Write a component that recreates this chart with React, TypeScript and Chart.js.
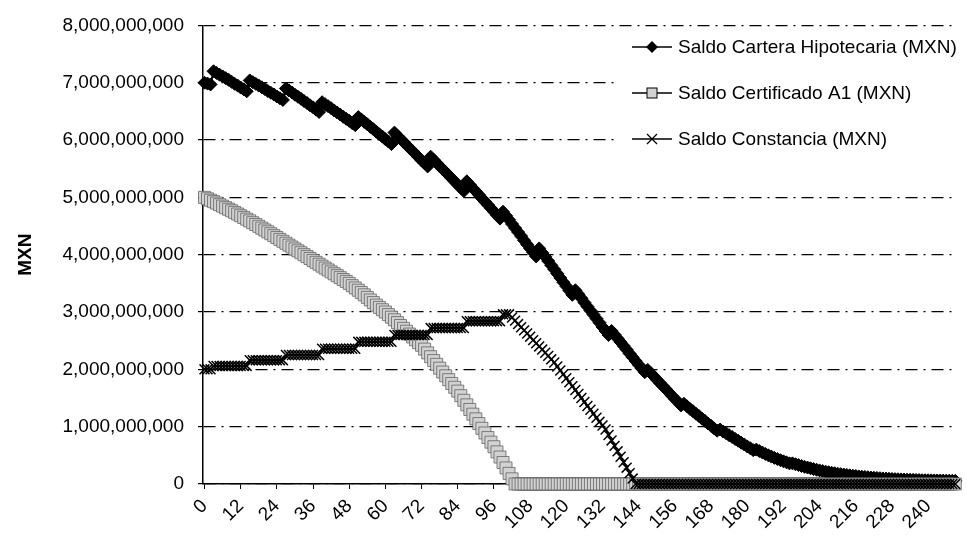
import React, { useEffect, useRef } from 'react';
import { Chart, registerables } from 'chart.js';

Chart.register(...registerables);

// Month index categories 0..249
const MONTHS: string[] = Array.from({ length: 250 }, (_, i) => String(i));

const X_TICK_LABELS = ['0', '12', '24', '36', '48', '60', '72', '84', '96', '108', '120', '132', '144', '156', '168', '180', '192', '204', '216', '228', '240'];

const Y_TICK_LABELS = ['0', '1,000,000,000', '2,000,000,000', '3,000,000,000', '4,000,000,000', '5,000,000,000', '6,000,000,000', '7,000,000,000', '8,000,000,000'];

const SERIES_NAMES = ['Saldo Cartera Hipotecaria (MXN)', 'Saldo Certificado A1 (MXN)', 'Saldo Constancia (MXN)'];

const Y_TITLE = 'MXN';

// Values in MXN millions, one per month
const CARTERA = [
  7000, 6985, 6970,
  7200, 7170, 7140, 7110, 7080, 7050, 7015, 6980, 6950, 6915, 6885, 6850,
  7040, 7010, 6980, 6950, 6920, 6890, 6855, 6825, 6795, 6760, 6730, 6700,
  6900, 6865, 6830, 6790, 6755, 6720, 6680, 6645, 6605, 6570, 6530, 6490,
  6660, 6625, 6590, 6555, 6515, 6480, 6445, 6405, 6370, 6335, 6295, 6260,
  6400, 6360, 6315, 6275, 6230, 6190, 6145, 6100, 6060, 6015, 5975, 5930,
  6130, 6075, 6020, 5970, 5915, 5860, 5810, 5755, 5700, 5645, 5595, 5540,
  5710, 5655, 5600, 5545, 5490, 5440, 5385, 5330, 5275, 5220, 5165, 5110,
  5280, 5220, 5160, 5105, 5045, 4985, 4925, 4870, 4810, 4750, 4690, 4630,
  4750, 4680, 4610, 4535, 4465, 4395, 4325, 4250, 4180, 4110, 4040, 3970,
  4110, 4035, 3965, 3890, 3815, 3745, 3670, 3595, 3520, 3450, 3375, 3300,
  3380, 3310, 3240, 3165, 3095, 3025, 2955, 2885, 2815, 2740, 2670, 2600,
  2670, 2605, 2540, 2475, 2410, 2345, 2275, 2210, 2145, 2080, 2015, 1950,
  1990, 1935, 1880, 1820, 1765, 1710, 1655, 1600, 1540, 1485, 1430, 1370,
  1400, 1355, 1310, 1270, 1225, 1185, 1140, 1100, 1055, 1015, 970, 930,
  950, 915, 885, 850, 820, 785, 755, 720, 690, 655, 625, 590,
  600, 575, 550, 525, 500, 478, 456, 436, 416, 396, 378, 360,
  360, 345, 330, 315, 300, 287, 274, 261, 249, 237, 226, 215,
  205, 196, 188, 180, 172, 165, 158, 151, 145, 139, 133, 128,
  123, 118, 113, 109, 105, 101, 97, 94, 91, 88, 85, 82,
  80, 78, 76, 74, 72, 70, 68, 66, 65, 64, 63, 62, 61, 60, 59, 58, 57, 56, 55,
];

const CERTIFICADO = [
  5000, 4975, 4950, 4925, 4900, 4873, 4847, 4820, 4793, 4766, 4738, 4709, 4680,
  4650, 4620, 4590, 4558, 4527, 4495, 4463, 4431, 4399, 4366, 4333, 4300,
  4267, 4234, 4200, 4167, 4134, 4100, 4067, 4034, 4000, 3967, 3934, 3900,
  3867, 3834, 3800, 3767, 3734, 3700, 3667, 3634, 3600, 3567, 3534, 3500,
  3460, 3420, 3380, 3340, 3300, 3255, 3210, 3165, 3120, 3080, 3040, 3000,
  2955, 2910, 2865, 2815, 2765, 2715, 2665, 2615, 2565, 2515, 2465, 2420,
  2353, 2287, 2220, 2153, 2087, 2020, 1953, 1887, 1820, 1753, 1687, 1620,
  1540, 1460, 1380, 1300, 1218, 1136, 1054, 972, 890, 810, 730, 650,
  560, 470, 375, 280, 185, 90, 0,
  0, 0, 0, 0, 0, 0, 0, 0, 0, 0, 0, 0, 0, 0, 0, 0, 0, 0, 0, 0,
  0, 0, 0, 0, 0, 0, 0, 0, 0, 0, 0, 0, 0, 0, 0, 0, 0, 0, 0, 0,
  0, 0, 0, 0, 0, 0, 0, 0, 0, 0, 0, 0, 0, 0, 0, 0, 0, 0, 0, 0,
  0, 0, 0, 0, 0, 0, 0, 0, 0, 0, 0, 0, 0, 0, 0, 0, 0, 0, 0, 0,
  0, 0, 0, 0, 0, 0, 0, 0, 0, 0, 0, 0, 0, 0, 0, 0, 0, 0, 0, 0,
  0, 0, 0, 0, 0, 0, 0, 0, 0, 0, 0, 0, 0, 0, 0, 0, 0, 0, 0, 0,
  0, 0, 0, 0, 0, 0, 0, 0, 0, 0, 0, 0, 0, 0, 0, 0, 0, 0, 0, 0,
  0, 0, 0, 0, 0, 0,
];

const CONSTANCIA = [
  2000, 2000, 2000,
  2060, 2060, 2060, 2060, 2060, 2060, 2060, 2060, 2060, 2060, 2060, 2060,
  2160, 2160, 2160, 2160, 2160, 2160, 2160, 2160, 2160, 2160, 2160, 2160,
  2250, 2250, 2250, 2250, 2250, 2250, 2250, 2250, 2250, 2250, 2250, 2250,
  2360, 2360, 2360, 2360, 2360, 2360, 2360, 2360, 2360, 2360, 2360, 2360,
  2480, 2480, 2480, 2480, 2480, 2480, 2480, 2480, 2480, 2480, 2480, 2480,
  2600, 2600, 2600, 2600, 2600, 2600, 2600, 2600, 2600, 2600, 2600, 2600,
  2720, 2720, 2720, 2720, 2720, 2720, 2720, 2720, 2720, 2720, 2720, 2720,
  2840, 2840, 2840, 2840, 2840, 2840, 2840, 2840, 2840, 2840, 2840, 2840,
  2960, 2960, 2960,
  2905, 2850, 2790, 2735, 2680, 2625, 2570, 2510, 2455, 2400, 2345, 2290, 2235, 2175, 2120,
  2050, 1980, 1915, 1845, 1775, 1705, 1640, 1570, 1500, 1430, 1360, 1295, 1225, 1155, 1085, 1020, 950,
  855, 760, 665, 570, 475, 380, 285, 190, 95, 0,
  0, 0, 0, 0, 0, 0, 0, 0, 0, 0, 0, 0, 0, 0, 0, 0, 0, 0, 0, 0,
  0, 0, 0, 0, 0, 0, 0, 0, 0, 0, 0, 0, 0, 0, 0, 0, 0, 0, 0, 0,
  0, 0, 0, 0, 0, 0, 0, 0, 0, 0, 0, 0, 0, 0, 0, 0, 0, 0, 0, 0,
  0, 0, 0, 0, 0, 0, 0, 0, 0, 0, 0, 0, 0, 0, 0, 0, 0, 0, 0, 0,
  0, 0, 0, 0, 0, 0, 0, 0, 0, 0, 0, 0, 0, 0, 0, 0, 0, 0, 0, 0,
  0, 0, 0, 0, 0, 0,
];

const FONT_FAMILY = '"Liberation Sans", Arial, Helvetica, sans-serif';
const GRAY = '#d2d2d2';

const legendPlugin = {
  id: 'customLegend',
  beforeDatasetsDraw(chart: any) {
    const ctx = chart.ctx as CanvasRenderingContext2D;
    ctx.save();
    ctx.fillStyle = '#ffffff';
    ctx.fillRect(614, 27, 352, 155);
    const rows = [47, 93, 139];
    ctx.font = `19px ${FONT_FAMILY}`;
    ctx.textBaseline = 'middle';
    ctx.textAlign = 'left';
    rows.forEach((y, i) => {
      ctx.strokeStyle = '#000';
      ctx.lineWidth = 1.5;
      ctx.beginPath();
      ctx.moveTo(632, y);
      ctx.lineTo(672, y);
      ctx.stroke();
      const cx = 652;
      if (i === 0) {
        ctx.fillStyle = '#000';
        ctx.beginPath();
        ctx.moveTo(cx - 6, y);
        ctx.lineTo(cx, y - 6);
        ctx.lineTo(cx + 6, y);
        ctx.lineTo(cx, y + 6);
        ctx.closePath();
        ctx.fill();
      } else if (i === 1) {
        ctx.fillStyle = GRAY;
        ctx.fillRect(cx - 5, y - 5, 10, 10);
        ctx.lineWidth = 1;
        ctx.strokeRect(cx - 5, y - 5, 10, 10);
      } else {
        ctx.lineWidth = 1.3;
        ctx.beginPath();
        ctx.moveTo(cx - 5, y - 5);
        ctx.lineTo(cx + 5, y + 5);
        ctx.moveTo(cx + 5, y - 5);
        ctx.lineTo(cx - 5, y + 5);
        ctx.stroke();
      }
      ctx.fillStyle = '#000';
      ctx.fillText(SERIES_NAMES[i], 678, y + 1);
    });
    ctx.restore();
  },
};

export default function App() {
  const ref = useRef<HTMLCanvasElement>(null);

  useEffect(() => {
    if (!ref.current) return;
    const chart = new Chart(ref.current, {
      type: 'line',
      data: {
        labels: MONTHS,
        datasets: [
          {
            label: SERIES_NAMES[0],
            data: CARTERA,
            borderColor: '#000',
            borderWidth: 2,
            pointStyle: 'rectRot',
            pointRadius: 6.5,
            pointBackgroundColor: '#000',
            pointBorderColor: '#000',
            pointBorderWidth: 1,
            order: 3,
            clip: false,
          } as any,
          {
            label: SERIES_NAMES[1],
            data: CERTIFICADO,
            borderColor: '#000',
            borderWidth: 1.5,
            pointStyle: 'rect',
            pointRadius: 8.5,
            pointBackgroundColor: GRAY,
            pointBorderColor: '#555',
            pointBorderWidth: 0.7,
            order: 2,
            clip: false,
          } as any,
          {
            label: SERIES_NAMES[2],
            data: CONSTANCIA,
            borderColor: '#000',
            borderWidth: 1.5,
            pointStyle: 'crossRot',
            pointRadius: 7,
            pointBorderColor: '#000',
            pointBorderWidth: 1.5,
            order: 1,
            clip: false,
          } as any,
        ],
      },
      options: {
        responsive: false,
        devicePixelRatio: 1,
        animation: false,
        events: [],
        layout: { padding: { left: 0, right: 3, top: 19, bottom: 0 } },
        plugins: {
          legend: { display: false },
          tooltip: { enabled: false },
        },
        scales: {
          x: {
            type: 'category',
            offset: true,
            grid: {
              display: true,
              drawOnChartArea: false,
              drawTicks: true,
              tickLength: 5,
              color: '#000',
              lineWidth: 1,
            },
            border: { display: true, color: '#000', width: 1.5 },
            ticks: {
              autoSkip: false,
              maxRotation: 45,
              minRotation: 45,
              padding: 6,
              color: '#000',
              font: { family: FONT_FAMILY, size: 19 },
              callback: (_v: any, idx: number) => (X_TICK_LABELS.includes(MONTHS[idx]) ? MONTHS[idx] : null),
            },
            afterFit: (s: any) => {
              s.height = 54;
            },
          },
          y: {
            type: 'linear',
            min: 0,
            max: 8000,
            grid: {
              color: '#000',
              lineWidth: 1.2,
              tickLength: 5,
              drawTicks: true,
            },
            border: { display: true, color: '#000', width: 1.5, dash: [12, 6, 2, 6] },
            ticks: {
              stepSize: 1000,
              padding: 14,
              color: '#000',
              font: { family: FONT_FAMILY, size: 19 },
              callback: (v: any) => Y_TICK_LABELS[Math.round(Number(v) / 1000)],
            },
            title: {
              display: true,
              text: Y_TITLE,
              color: '#000',
              font: { family: FONT_FAMILY, size: 19, weight: 'bold' },
              padding: { top: 14, bottom: 0 },
            },
            afterFit: (s: any) => {
              s.width = 203;
            },
          },
        },
      } as any,
      plugins: [legendPlugin],
    });
    return () => chart.destroy();
  }, []);

  return (
    <div style={{ position: 'fixed', left: 0, top: 0, width: 966, height: 538, background: '#fff' }}>
      <canvas ref={ref} width={966} height={538} style={{ display: 'block' }} />
    </div>
  );
}
